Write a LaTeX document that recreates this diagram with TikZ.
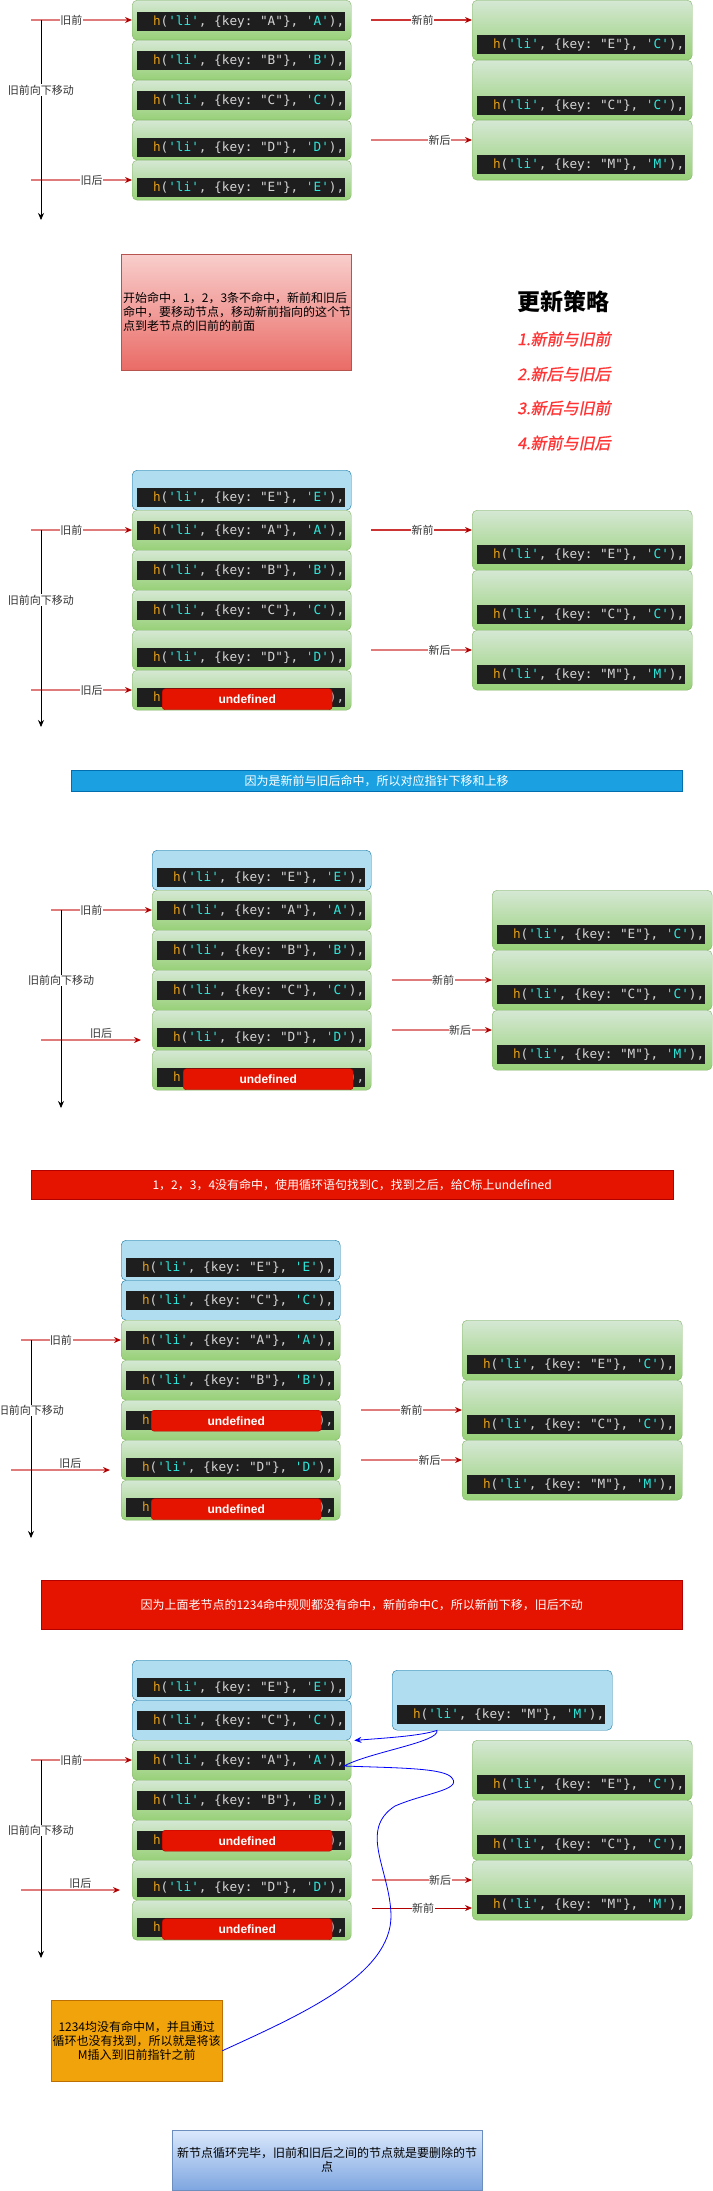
\documentclass[tikz,border=0pt]{standalone}
\usepackage{fontspec}
\setmainfont{Noto Sans CJK SC}
\setsansfont{Liberation Sans}
\setmonofont{DejaVu Sans Mono}
\newfontfamily\rulefont[FakeSlant=0.2,FakeBold=1]{Noto Sans CJK SC}
\usepackage{xcolor}
\definecolor{greentop}{HTML}{D5E8D4}
\definecolor{greenbot}{HTML}{97D077}
\definecolor{greenline}{HTML}{82B366}
\definecolor{bluefill}{HTML}{B1DDF0}
\definecolor{blueline}{HTML}{10739E}
\definecolor{codebg}{HTML}{1E1E1E}
\definecolor{codegray}{HTML}{D4D4D4}
\definecolor{codeh}{HTML}{E6A01A}
\definecolor{codestr}{HTML}{2EE6DA}
\definecolor{undefred}{HTML}{E51400}
\definecolor{undefline}{HTML}{B20000}
\definecolor{ptrline}{HTML}{E07B7B}
\definecolor{ptrdarkline}{HTML}{CC3333}
\definecolor{ptrhead}{HTML}{B20000}
\definecolor{tagtext}{HTML}{333333}
\definecolor{notetop}{HTML}{F8CECC}
\definecolor{notebot}{HTML}{EA6B66}
\definecolor{noteline}{HTML}{B85450}
\definecolor{rulered}{HTML}{FF3333}
\definecolor{bannerblue}{HTML}{1BA1E2}
\definecolor{bannerblueline}{HTML}{006EAF}
\definecolor{orangefill}{HTML}{F0A30A}
\definecolor{orangeline}{HTML}{BD7000}
\definecolor{donetop}{HTML}{DAE8FC}
\definecolor{donebot}{HTML}{7EA6E0}
\definecolor{doneline}{HTML}{6C8EBF}
\usepackage{tikz}
\usetikzlibrary{arrows.meta}

\newcommand{\csp}{\kern0.602em}
\newcommand{\hli}[2]{{\color{codeh}h}({\color{codestr}'li'},\csp\char"7B key:\csp"#1"\char"7D,\csp{\color{codestr}'#2'}),}
\newcommand{\hlimask}{{\color{codeh}h}\phantom{('li',\csp\char"7B key:\csp"X"\char"7D,\csp'X'}),}
% box with its code bar
\newcommand{\vnode}[5]{%
    \node[#2] (#1) at #3 {};
    \node[codebar] (#1t) at ([xshift=5pt,yshift=-#4pt]#1.north west) {#5};
}

\tikzstyle{vbase} = [rounded corners=5pt, inner sep=0pt, anchor=north west,
    minimum width=219pt, minimum height=40pt]
\tikzstyle{oldbox} = [vbase, draw=greenline, top color=greentop, bottom color=greenbot]
\tikzstyle{movedbox} = [vbase, draw=blueline, fill=bluefill]
\tikzstyle{newbox} = [oldbox, minimum width=220pt, minimum height=60pt]
\tikzstyle{insbox} = [movedbox, minimum width=220pt, minimum height=60pt]
\tikzstyle{codebar} = [anchor=north west, fill=codebg, minimum height=19pt,
    inner xsep=1pt, inner ysep=0pt, text width=206pt, align=right,
    text=codegray, font=\ttfamily\fontsize{12.7}{14}\selectfont]
\tikzstyle{undef} = [anchor=west, fill=undefred, draw=undefline, rounded corners=3pt,
    minimum width=170pt, minimum height=21pt, inner sep=0pt, text=white,
    font=\sffamily\bfseries\fontsize{12}{14}\selectfont]
\tikzstyle{ptr} = [draw=ptrline, line width=1.2pt, -{Stealth[length=7pt,width=6pt,color=ptrhead]}]
\tikzstyle{ptrdark} = [ptr, draw=ptrdarkline]
\tikzstyle{ptrthin} = [ptr, draw=ptrhead, line width=0.8pt]
\tikzstyle{walk} = [draw=black, line width=0.8pt, -{Stealth[length=7pt,width=6pt]}]
\tikzstyle{tag} = [fill=white, inner sep=0.5pt, text=tagtext, font=\fontsize{11}{13}\selectfont]
\tikzstyle{tagabove} = [tag, fill=none, above=1pt]
\tikzstyle{banner} = [anchor=north west, inner sep=0pt, text=white, font=\fontsize{12}{14}\selectfont]
\tikzstyle{rule} = [anchor=west, inner sep=0pt, text=rulered, font=\rulefont\fontsize{16}{18}\selectfont]
\tikzstyle{insline} = [draw=blue, line width=0.8pt, -{Stealth[length=7pt,width=6pt]}]

\begin{document}
\begin{tikzpicture}[x=1pt,y=-1pt]
    \useasboundingbox (0,0) rectangle (712,2191);

    % step 1
    \vnode{o1a}{oldbox}{(132,0)}{12}{\hli{A}{A}}
    \vnode{o1b}{oldbox}{(132,40)}{11}{\hli{B}{B}}
    \vnode{o1c}{oldbox}{(132,80)}{11}{\hli{C}{C}}
    \vnode{o1d}{oldbox}{(132,120)}{18}{\hli{D}{D}}
    \vnode{o1e}{oldbox}{(132,160)}{18}{\hli{E}{E}}
    \vnode{n1a}{newbox}{(472,0)}{35}{\hli{E}{C}}
    \vnode{n1b}{newbox}{(472,60)}{36}{\hli{C}{C}}
    \vnode{n1c}{newbox}{(472,120)}{35}{\hli{M}{M}}

    \coordinate (s1op) at (31,20);
    \coordinate (s1oe) at (31,180);
    \coordinate (s1np) at (371,20);
    \coordinate (s1ne) at (371,140);
    \coordinate (s1top) at (41,20);
    \coordinate (s1bot) at (41,220);
    \draw[ptr] (s1op) -- node[tag,pos=0.4] {旧前} (s1op -| o1a.west);
    \draw[ptr] (s1oe) -- node[tag,pos=0.6] {旧后} (s1oe -| o1e.west);
    \draw[walk] (s1top) -- node[tag,pos=0.35] {旧前向下移动} (s1bot);
    \draw[ptrdark] (s1np) -- node[tag,pos=0.51] {新前} (s1np -| n1a.west);
    \draw[ptr] (s1ne) -- node[tag,pos=0.68] {新后} (s1ne -| n1c.west);

    \node[anchor=north west, top color=notetop, bottom color=notebot, draw=noteline,
        minimum width=230pt, minimum height=116pt, inner xsep=2pt, text width=226pt,
        align=left, font=\fontsize{12}{14}\selectfont] (tip1) at (121,254)
        {开始命中，1，2，3条不命中，新前和旧后\\命中，要移动节点，移动新前指向的这个节\\点到老节点的旧前的前面};

    \node[anchor=west, inner sep=0pt, font=\bfseries\fontsize{23}{26}\selectfont] (plan) at (517,302) {更新策略};
    \node[rule] (rule1) at (517,339) {1.新前与旧前};
    \node[rule] (rule2) at (517,374) {2.新后与旧后};
    \node[rule] (rule3) at (517,408) {3.新后与旧前};
    \node[rule] (rule4) at (517,443) {4.新前与旧后};

    % step 2
    \vnode{o2e}{movedbox}{(132,470)}{18}{\hli{E}{E}}
    \vnode{o2a}{oldbox}{(132,510)}{11}{\hli{A}{A}}
    \vnode{o2b}{oldbox}{(132,550)}{11}{\hli{B}{B}}
    \vnode{o2c}{oldbox}{(132,590)}{11}{\hli{C}{C}}
    \vnode{o2d}{oldbox}{(132,630)}{18}{\hli{D}{D}}
    \vnode{o2f}{oldbox}{(132,670)}{18}{\hlimask}
    \node[undef] (o2fu) at ([xshift=25pt,yshift=-1.5pt]o2ft.west) {undefined};
    \vnode{n2a}{newbox}{(472,510)}{35}{\hli{E}{C}}
    \vnode{n2b}{newbox}{(472,570)}{35}{\hli{C}{C}}
    \vnode{n2c}{newbox}{(472,630)}{35}{\hli{M}{M}}

    \coordinate (s2op) at (31,530);
    \coordinate (s2oe) at (31,690);
    \coordinate (s2np) at (371,530);
    \coordinate (s2ne) at (371,650);
    \coordinate (s2top) at (41,530);
    \coordinate (s2bot) at (41,727);
    \draw[ptr] (s2op) -- node[tag,pos=0.4] {旧前} (s2op -| o2a.west);
    \draw[ptr] (s2oe) -- node[tag,pos=0.6] {旧后} (s2oe -| o2f.west);
    \draw[walk] (s2top) -- node[tag,pos=0.355] {旧前向下移动} (s2bot);
    \draw[ptrdark] (s2np) -- node[tag,pos=0.51] {新前} (s2np -| n2a.west);
    \draw[ptr] (s2ne) -- node[tag,pos=0.68] {新后} (s2ne -| n2c.west);

    \node[banner, fill=bannerblue, draw=bannerblueline, minimum width=611pt, minimum height=21pt]
        (note2) at (71,770) {因为是新前与旧后命中，所以对应指针下移和上移};

    % step 3
    \vnode{o3e}{movedbox}{(152,850)}{18}{\hli{E}{E}}
    \vnode{o3a}{oldbox}{(152,890)}{11}{\hli{A}{A}}
    \vnode{o3b}{oldbox}{(152,930)}{11}{\hli{B}{B}}
    \vnode{o3c}{oldbox}{(152,970)}{11}{\hli{C}{C}}
    \vnode{o3d}{oldbox}{(152,1010)}{18}{\hli{D}{D}}
    \vnode{o3f}{oldbox}{(152,1050)}{18}{\hlimask}
    \node[undef] (o3fu) at ([xshift=26pt,yshift=-1.5pt]o3ft.west) {undefined};
    \vnode{n3a}{newbox}{(492,890)}{35}{\hli{E}{C}}
    \vnode{n3b}{newbox}{(492,950)}{35}{\hli{C}{C}}
    \vnode{n3c}{newbox}{(492,1010)}{35}{\hli{M}{M}}

    \coordinate (s3op) at (51,910);
    \coordinate (s3oe) at (41,1040);
    \coordinate (s3oeend) at (141,1040);
    \coordinate (s3np) at (392,980);
    \coordinate (s3ne) at (392,1030);
    \coordinate (s3top) at (61,910);
    \coordinate (s3bot) at (61,1108);
    \draw[ptr] (s3op) -- node[tag,pos=0.4] {旧前} (s3op -| o3a.west);
    \draw[ptr] (s3oe) -- node[tagabove,pos=0.6] {旧后} (s3oeend);
    \draw[walk] (s3top) -- node[tag,pos=0.355] {旧前向下移动} (s3bot);
    \draw[ptr] (s3np) -- node[tag,pos=0.51] {新前} (s3np -| n3b.west);
    \draw[ptr] (s3ne) -- node[tag,pos=0.68] {新后} (s3ne -| n3c.west);

    \node[banner, fill=undefred, draw=undefline, minimum width=642pt, minimum height=29pt]
        (note3) at (31,1170) {1，2，3，4没有命中，使用循环语句找到C，找到之后，给C标上undefined};

    % step 4
    \vnode{o4e}{movedbox}{(121,1240)}{18}{\hli{E}{E}}
    \vnode{o4c}{movedbox}{(121,1280)}{11}{\hli{C}{C}}
    \vnode{o4a}{oldbox}{(121,1320)}{11}{\hli{A}{A}}
    \vnode{o4b}{oldbox}{(121,1360)}{11}{\hli{B}{B}}
    \vnode{o4u}{oldbox}{(121,1400)}{11}{\hlimask}
    \node[undef] (o4uu) at ([xshift=25pt]o4ut.west) {undefined};
    \vnode{o4d}{oldbox}{(121,1440)}{18}{\hli{D}{D}}
    \vnode{o4f}{oldbox}{(121,1480)}{18}{\hlimask}
    \node[undef] (o4fu) at ([xshift=25pt,yshift=-1.5pt]o4ft.west) {undefined};
    \vnode{n4a}{newbox}{(462,1320)}{35}{\hli{E}{C}}
    \vnode{n4b}{newbox}{(462,1380)}{35}{\hli{C}{C}}
    \vnode{n4c}{newbox}{(462,1440)}{35}{\hli{M}{M}}

    \coordinate (s4op) at (21,1340);
    \coordinate (s4oe) at (11,1470);
    \coordinate (s4oeend) at (110,1470);
    \coordinate (s4np) at (361,1410);
    \coordinate (s4ne) at (361,1460);
    \coordinate (s4top) at (31,1340);
    \coordinate (s4bot) at (31,1538);
    \draw[ptr] (s4op) -- node[tag,pos=0.4] {旧前} (s4op -| o4a.west);
    \draw[ptr] (s4oe) -- node[tagabove,pos=0.6] {旧后} (s4oeend);
    \draw[walk] (s4top) -- node[tag,pos=0.355] {旧前向下移动} (s4bot);
    \draw[ptr] (s4np) -- node[tag,pos=0.5] {新前} (s4np -| n4b.west);
    \draw[ptr] (s4ne) -- node[tag,pos=0.68] {新后} (s4ne -| n4c.west);

    \node[banner, fill=undefred, draw=undefline, minimum width=641pt, minimum height=49pt]
        (note4) at (41,1580) {因为上面老节点的1234命中规则都没有命中，新前命中C，所以新前下移，旧后不动};

    % step 5
    \vnode{o5e}{movedbox}{(132,1660)}{18}{\hli{E}{E}}
    \vnode{o5c}{movedbox}{(132,1700)}{11}{\hli{C}{C}}
    \vnode{o5a}{oldbox}{(132,1740)}{11}{\hli{A}{A}}
    \vnode{o5b}{oldbox}{(132,1780)}{11}{\hli{B}{B}}
    \vnode{o5u}{oldbox}{(132,1820)}{11}{\hlimask}
    \node[undef] (o5uu) at ([xshift=25pt]o5ut.west) {undefined};
    \vnode{o5d}{oldbox}{(132,1860)}{18}{\hli{D}{D}}
    \vnode{o5f}{oldbox}{(132,1900)}{18}{\hlimask}
    \node[undef] (o5fu) at ([xshift=25pt,yshift=-1.5pt]o5ft.west) {undefined};
    \vnode{ins}{insbox}{(392,1670)}{35}{\hli{M}{M}}
    \vnode{n5a}{newbox}{(472,1740)}{35}{\hli{E}{C}}
    \vnode{n5b}{newbox}{(472,1800)}{35}{\hli{C}{C}}
    \vnode{n5c}{newbox}{(472,1860)}{35}{\hli{M}{M}}

    \coordinate (s5op) at (31,1760);
    \coordinate (s5oe) at (21,1890);
    \coordinate (s5oeend) at (120,1890);
    \coordinate (s5ne) at (372,1880);
    \coordinate (s5np) at (372,1908);
    \coordinate (s5top) at (41,1760);
    \coordinate (s5bot) at (41,1958);
    \draw[ptr] (s5op) -- node[tag,pos=0.4] {旧前} (s5op -| o5a.west);
    \draw[ptr] (s5oe) -- node[tagabove,pos=0.6] {旧后} (s5oeend);
    \draw[walk] (s5top) -- node[tag,pos=0.355] {旧前向下移动} (s5bot);
    \draw[ptr] (s5ne) -- node[tag,pos=0.68] {新后} (s5ne -| n5c.west);
    \draw[ptrthin] (s5np) -- node[tag,pos=0.51] {新前} (s5np -| n5c.west);

    \node[anchor=north west, fill=orangefill, draw=orangeline, minimum width=171pt,
        minimum height=81pt, inner xsep=1pt, text width=169pt, align=center,
        font=\fontsize{12}{14}\selectfont] (tip5) at (51,2000)
        {1234均没有命中M，并且通过\\循环也没有找到，所以就是将该\\M插入到旧前指针之前};

    \draw[insline] ([yshift=-10pt]tip5.east) .. controls (300,2015) and (392,1975) .. (391,1915)
        .. controls (390,1870) and (358,1830) .. (395,1806)
        .. controls (425,1793) and (462,1790) .. (452,1778)
        .. controls (445,1768) and (400,1768) .. (344,1766)
        .. controls (370,1752) and (440,1742) .. ([xshift=45pt]ins.south west)
        .. controls (420,1736) and (385,1738) .. ([xshift=3pt]o5c.south east);

    \node[anchor=north west, top color=donetop, bottom color=donebot, draw=doneline,
        minimum width=310pt, minimum height=60pt, inner xsep=2pt, text width=306pt,
        align=center, font=\fontsize{12}{14}\selectfont] (done) at (172,2130)
        {新节点循环完毕，旧前和旧后之间的节点就是要删除的节\\点};

\end{tikzpicture}
\end{document}
